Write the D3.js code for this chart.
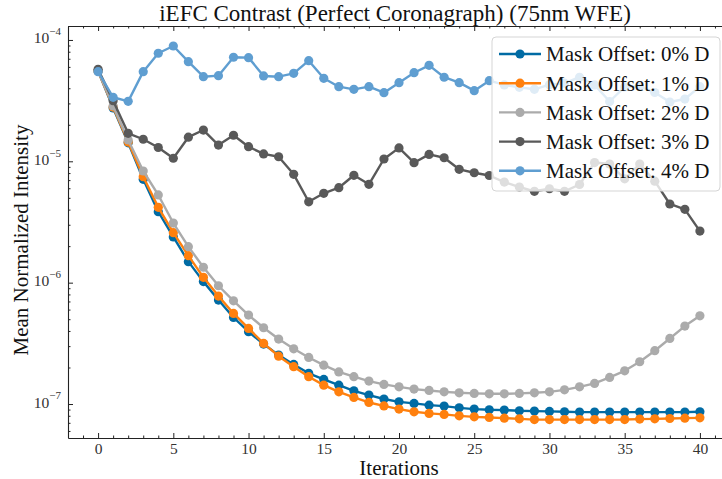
<!DOCTYPE html>
<html><head><meta charset="utf-8">
<script src="https://cdn.jsdelivr.net/npm/d3@7"></script>
<style>body{margin:0;background:#fff}svg{display:block}</style>
</head><body>
<svg id="c" width="722" height="479"></svg>
<script>
const iterations = d3.range(0, 41);
const seriesLabels = ["Mask Offset: 0% D","Mask Offset: 1% D","Mask Offset: 2% D","Mask Offset: 3% D","Mask Offset: 4% D"];
const seriesColors = ["#006BA4","#FF800E","#ABABAB","#595959","#5F9ED1"];
const offset0 = [5.55e-5,2.75e-5,1.42e-5,7.11e-6,3.84e-6,2.38e-6,1.49e-6,1.02e-6,7.19e-7,5.17e-7,3.94e-7,3.12e-7,2.53e-7,2.12e-7,1.79e-7,1.595e-7,1.43e-7,1.285e-7,1.184e-7,1.10e-7,1.042e-7,1.012e-7,9.79e-8,9.61e-8,9.30e-8,9.08e-8,8.96e-8,8.91e-8,8.79e-8,8.74e-8,8.69e-8,8.63e-8,8.58e-8,8.58e-8,8.58e-8,8.58e-8,8.58e-8,8.58e-8,8.58e-8,8.58e-8,8.63e-8];
const offset1 = [5.55e-5,2.80e-5,1.44e-5,7.46e-6,4.18e-6,2.58e-6,1.67e-6,1.106e-6,7.75e-7,5.58e-7,4.20e-7,3.16e-7,2.48e-7,2.03e-7,1.68e-7,1.43e-7,1.26e-7,1.133e-7,1.03e-7,9.64e-8,9.08e-8,8.63e-8,8.37e-8,8.21e-8,7.99e-8,7.84e-8,7.75e-8,7.65e-8,7.55e-8,7.44e-8,7.44e-8,7.44e-8,7.44e-8,7.44e-8,7.44e-8,7.45e-8,7.51e-8,7.55e-8,7.60e-8,7.65e-8,7.69e-8];
const offset2 = [5.55e-5,2.86e-5,1.50e-5,8.32e-6,5.28e-6,3.10e-6,1.98e-6,1.34e-6,9.43e-7,7.09e-7,5.41e-7,4.25e-7,3.43e-7,2.85e-7,2.42e-7,2.09e-7,1.84e-7,1.68e-7,1.545e-7,1.45e-7,1.386e-7,1.327e-7,1.294e-7,1.26e-7,1.237e-7,1.223e-7,1.214e-7,1.214e-7,1.223e-7,1.237e-7,1.26e-7,1.309e-7,1.386e-7,1.478e-7,1.657e-7,1.878e-7,2.23e-7,2.75e-7,3.47e-7,4.39e-7,5.33e-7];
const offset3 = [5.73e-5,3.16e-5,1.70e-5,1.52e-5,1.30e-5,1.06e-5,1.58e-5,1.81e-5,1.36e-5,1.64e-5,1.32e-5,1.15e-5,1.09e-5,7.81e-6,4.64e-6,5.45e-6,6.06e-6,7.67e-6,6.46e-6,1.045e-5,1.29e-5,9.74e-6,1.14e-5,1.07e-5,8.59e-6,8.05e-6,7.64e-6,6.75e-6,6.14e-6,5.66e-6,5.94e-6,5.66e-6,6.44e-6,9.77e-6,9.50e-6,7.17e-6,9.50e-6,6.86e-6,4.45e-6,4.02e-6,2.66e-6];
const offset4 = [5.48e-5,3.37e-5,3.12e-5,5.48e-5,7.77e-5,8.92e-5,6.62e-5,4.98e-5,5.08e-5,7.20e-5,7.15e-5,5.05e-5,4.98e-5,5.31e-5,6.75e-5,4.83e-5,4.12e-5,3.92e-5,4.12e-5,3.68e-5,4.45e-5,5.37e-5,6.18e-5,4.93e-5,4.45e-5,3.82e-5,4.62e-5,4.26e-5,4.07e-5,3.92e-5,4.28e-5,4.40e-5,4.93e-5,4.26e-5,3.11e-5,4.10e-5,4.15e-5,3.69e-5,3.08e-5,3.26e-5,4.12e-5];
const allSeries = [offset0, offset1, offset2, offset3, offset4];
const xMajorTicks = [0,5,10,15,20,25,30,35,40];
const yMajorTicks = [1e-7,1e-6,1e-5,1e-4];
const yTickExponents = ["\u22127","\u22126","\u22125","\u22124"];

const svg = d3.select("#c");
const L = 68, R = 730, T = 26, B = 438;
const x = d3.scaleLinear().domain([-2, 42]).range([L, R]);
const y = d3.scaleLog().domain([Math.pow(10,-7.28), Math.pow(10,-3.885)]).range([B, T]);
const font = "'Liberation Serif', 'DejaVu Serif', serif";

svg.append("defs").append("clipPath").attr("id","clip").append("rect").attr("x",L-6).attr("y",T-6).attr("width",R-L+12).attr("height",B-T+12);

const xMinor = d3.range(-2, 43).filter(v => v % 5 !== 0);
const yMinor = [];
[-8,-7,-6,-5,-4].forEach(e => { for (let k=2;k<10;k++){ const v=k*Math.pow(10,e); if (v>y.domain()[0] && v<y.domain()[1]) yMinor.push(v);} });

function styleAxis(g){ g.selectAll("path.domain").attr("stroke","#222").attr("stroke-width",1.1); g.selectAll(".tick line").attr("stroke","#222").attr("stroke-width",1); }

const gb = svg.append("g").attr("transform",`translate(0,${B})`)
  .call(d3.axisBottom(x).tickValues(xMajorTicks).tickSize(-5).tickSizeOuter(0).tickPadding(5).tickFormat(d3.format("d")));
styleAxis(gb);
gb.selectAll(".tick text").attr("font-family",font).attr("font-size",15.5).attr("fill","#333");
const gbm = svg.append("g").attr("transform",`translate(0,${B})`)
  .call(d3.axisBottom(x).tickValues(xMinor).tickSize(-2.5).tickSizeOuter(0).tickFormat(""));
styleAxis(gbm); gbm.select("path.domain").remove();
const gt = svg.append("g").attr("transform",`translate(0,${T})`)
  .call(d3.axisTop(x).tickValues(xMajorTicks).tickSize(-5).tickSizeOuter(0).tickFormat(""));
styleAxis(gt);
const gtm = svg.append("g").attr("transform",`translate(0,${T})`)
  .call(d3.axisTop(x).tickValues(xMinor).tickSize(-2.5).tickSizeOuter(0).tickFormat(""));
styleAxis(gtm); gtm.select("path.domain").remove();
const gl = svg.append("g").attr("transform",`translate(${L},0)`)
  .call(d3.axisLeft(y).tickValues(yMajorTicks).tickSize(-5).tickSizeOuter(0).tickPadding(7).tickFormat(""));
styleAxis(gl);
gl.selectAll(".tick text").each(function(d,i){
  const t = d3.select(this).attr("font-family",font).attr("fill","#333").attr("dy","0.3em");
  t.append("tspan").attr("font-size",15.5).text("10");
  t.append("tspan").attr("font-size",11).attr("dy","-0.75em").text(yTickExponents[i]);
});
const glm = svg.append("g").attr("transform",`translate(${L},0)`)
  .call(d3.axisLeft(y).tickValues(yMinor).tickSize(-2.5).tickSizeOuter(0).tickFormat(""));
styleAxis(glm); glm.select("path.domain").remove();

const plot = svg.append("g").attr("clip-path","url(#clip)");
const line = d3.line().x((d,i)=>x(iterations[i])).y(d=>y(d));
allSeries.forEach((s, si) => {
  const g = plot.append("g");
  g.append("path").datum(s).attr("d", line).attr("fill","none").attr("stroke",seriesColors[si]).attr("stroke-width",2.4).attr("stroke-linejoin","round");
  g.selectAll("circle").data(s).join("circle").attr("cx",(d,i)=>x(iterations[i])).attr("cy",d=>y(d)).attr("r",4.6).attr("fill",seriesColors[si]);
});

const lg = svg.append("g");
lg.append("rect").attr("x",492).attr("y",37).attr("width",228).attr("height",154).attr("rx",4)
  .attr("fill","#fff").attr("fill-opacity",0.8).attr("stroke","#d5d5d5").attr("stroke-width",1);
seriesLabels.forEach((lab, i) => {
  const cy = 54 + i*29.2;
  lg.append("line").attr("x1",499).attr("x2",541).attr("y1",cy).attr("y2",cy).attr("stroke",seriesColors[i]).attr("stroke-width",2.4);
  lg.append("circle").attr("cx",520).attr("cy",cy).attr("r",4.6).attr("fill",seriesColors[i]);
  lg.append("text").attr("x",546).attr("y",cy).attr("dy","0.35em").attr("font-family",font).attr("font-size",21).attr("fill","#111").text(lab);
});

svg.append("text").attr("x",395).attr("y",21).attr("text-anchor","middle").attr("font-family",font).attr("font-size",23).attr("fill","#111")
  .text("iEFC Contrast (Perfect Coronagraph) (75nm WFE)");
svg.append("text").attr("x",399).attr("y",475).attr("text-anchor","middle").attr("font-family",font).attr("font-size",21).attr("fill","#111").text("Iterations");
svg.append("text").attr("transform","translate(28,240) rotate(-90)").attr("text-anchor","middle").attr("font-family",font).attr("font-size",21).attr("fill","#111").text("Mean Normalized Intensity");
</script>
</body></html>
